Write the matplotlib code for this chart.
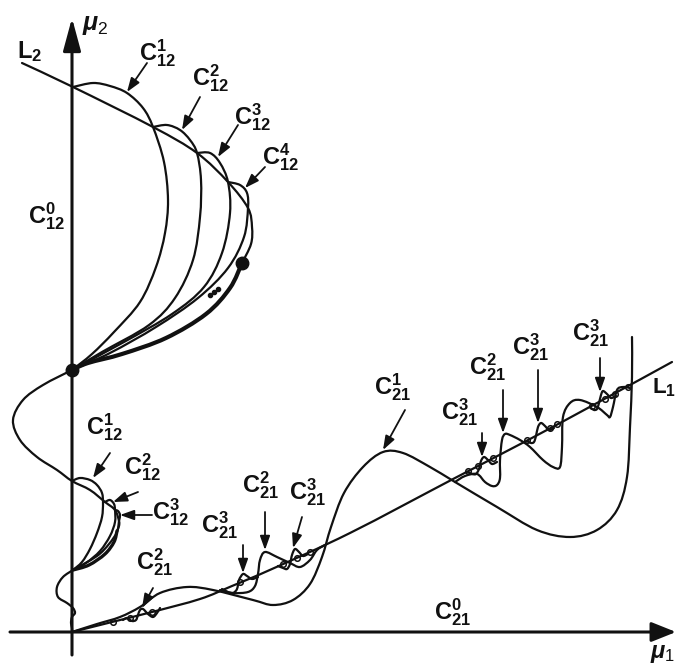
import numpy as np
import matplotlib
matplotlib.use("Agg")
import matplotlib.pyplot as plt
from matplotlib.path import Path
from matplotlib.patches import PathPatch

plt.rcParams['font.family'] = ['Liberation Sans', 'DejaVu Sans']
plt.rcParams['mathtext.fontset'] = 'custom'
plt.rcParams['mathtext.rm'] = 'Liberation Sans'
plt.rcParams['mathtext.it'] = 'Liberation Sans:italic:bold'
plt.rcParams['mathtext.bf'] = 'Liberation Sans:bold'

# ---------------- data (mu1, mu2 coordinates) ----------------
# upper structure
L2_x = [-50, 1, 81, 125, 156, 176, 180, 179, 170]
L2_y = [569, 545, 505, 479, 450, 424, 405, 388, 369]
limit_x = [170, 158, 134, 94, 50, 16, 0]
limit_y = [369, 344, 318, 294, 278, 269, 262]
c12_1_x = [1, 21, 38, 55, 71, 81, 92, 96, 93, 84, 68, 42, 20, 0]
c12_1_y = [545, 549, 546, 539, 524, 505, 470, 432, 399, 365, 330, 300, 278, 262]
c12_2_x = [81, 95, 108, 118, 125, 129, 128, 121, 103, 77, 30, 0]
c12_2_y = [505, 507, 502, 492, 479, 452, 415, 372, 334, 307, 280, 262]
c12_3_x = [125, 138, 148, 156, 158, 150, 132, 100, 52, 0]
c12_3_y = [479, 479, 469, 450, 419, 379, 345, 318, 290, 262]
c12_4_x = [156, 168, 175, 176, 172, 156, 126, 84, 38, 0]
c12_4_y = [450, 447, 439, 424, 395, 364, 334, 305, 279, 262]

# S-shaped curve and small copy
s_curve_x = [0, -29, -49, -59, -52, -35, -15, 0, 18, 33, 43, 47, 47, 45]
s_curve_y = [262, 247, 232, 212, 192, 175, 162, 151, 142, 130, 122, 111, 106, 101]
s_limit_x = [45, 42, 33, 17, 1]
s_limit_y = [101, 90, 78, 67, 62]
s_c12_1_x = [0, 8, 18, 25, 30, 31, 30, 25, 18, 10, 1]
s_c12_1_y = [151, 154, 152, 147, 139, 129, 115, 99, 83, 70, 62]
s_c12_2_x = [33, 38, 42, 43, 43, 38, 28, 14, 1]
s_c12_2_y = [130, 132, 128, 122, 110, 96, 81, 69, 62]
s_c12_3_x = [43, 46, 48, 47, 45, 37, 25, 1]
s_c12_3_y = [122, 121, 117, 111, 100, 88, 76, 62]
tail_x = [1, -9, -15, -14, -5, 1, 3, 0, -1, 0, 0]
tail_y = [62, 55, 45, 35, 29, 24, 19, 15, 9, 4, 0]

# lower-right structure
L1_x = [0, 40, 80, 128, 160, 200, 278, 383, 458, 525, 600]
L1_y = [0, 10, 20, 33, 46, 63, 99, 154, 193, 229, 270]
c21_1_x = [0, 25, 48, 68, 88, 115, 141, 181, 201, 221, 238, 250, 259, 272, 291,
           311, 331, 358, 383, 425, 465, 498, 525, 545, 555, 558, 560, 560]
c21_1_y = [0, 8, 15, 25, 39, 45, 42, 32, 27, 32, 48, 75, 105, 139, 165,
           180, 179, 165, 150, 125, 102, 95, 102, 122, 155, 205, 255, 295]
c21_2u_x = [383, 393, 405, 413, 420, 425, 428, 428, 430, 433, 438, 448, 458, 471,
            481, 488, 490, 491, 498, 508, 525, 535, 538, 541, 545, 551, 558]
c21_2u_y = [150, 156, 158, 150, 146, 147, 154, 172, 192, 198, 197, 192, 185, 172,
            165, 165, 185, 215, 229, 232, 225, 217, 215, 225, 242, 245, 244]
c21_2l_x = [148, 161, 176, 183, 186, 188, 193, 205, 218, 228, 238, 245, 253]
c21_2l_y = [42, 39, 40, 46, 58, 72, 80, 75, 69, 65, 72, 82, 87]
c21_2s_x = [51, 55, 60, 64, 66, 68, 71, 76, 81, 85, 88]
c21_2s_y = [12, 14, 11, 12, 17, 22, 23, 18, 15, 19, 24]
b1_x = [150, 156, 161, 165, 167, 171, 175, 180, 186]
b1_y = [43, 40, 39, 43, 52, 58, 56, 53, 55]
b2_x = [206, 211, 215, 218, 220, 223, 227, 231, 236]
b2_y = [66, 64, 63, 68, 77, 83, 80, 76, 78]
b3_x = [396, 400, 404, 407, 409, 412, 416, 420, 425]
b3_y = [160, 158, 158, 163, 171, 175, 172, 168, 170]
b4_x = [455, 459, 462, 464, 466, 469, 473, 477, 482]
b4_y = [191, 189, 190, 196, 205, 209, 206, 202, 204]
b5_x = [519, 522, 525, 527, 529, 531, 535, 539, 544]
b5_y = [224, 222, 223, 229, 237, 241, 238, 234, 236]
loops_x = [41, 58, 80, 168, 211, 225, 238, 396, 406, 421, 455, 478, 485, 520, 533, 543, 556]
loops_y = [10, 14.5, 20, 50, 68, 74, 80, 161, 166, 174, 192, 204, 208, 226, 233, 238, 245]

dots_x = [170, 0]
dots_y = [369, 262]
ellipsis_x = [138, 142, 146]
ellipsis_y = [337, 340, 343]

# labels: text, centre x, centre y
labels = [
    (r"$\mathregular{C^1_{12}}$", 86, 579),
    (r"$\mathregular{C^2_{12}}$", 139, 554),
    (r"$\mathregular{C^3_{12}}$", 181, 515),
    (r"$\mathregular{C^4_{12}}$", 209, 475),
    (r"$\mathregular{C^0_{12}}$", -25, 416),
    (r"$\mathregular{C^1_{12}}$", 33, 205),
    (r"$\mathregular{C^2_{12}}$", 71, 165),
    (r"$\mathregular{C^3_{12}}$", 99, 120),
    (r"$\mathregular{C^2_{21}}$", 83, 70),
    (r"$\mathregular{C^3_{21}}$", 148, 107),
    (r"$\mathregular{C^2_{21}}$", 189, 147),
    (r"$\mathregular{C^3_{21}}$", 236, 140),
    (r"$\mathregular{C^1_{21}}$", 321, 245),
    (r"$\mathregular{C^3_{21}}$", 388, 220),
    (r"$\mathregular{C^2_{21}}$", 416, 265),
    (r"$\mathregular{C^3_{21}}$", 459, 285),
    (r"$\mathregular{C^3_{21}}$", 519, 299),
    (r"$\mathregular{C^0_{21}}$", 381, 20),
    (r"$\mathregular{L_2}$", -42, 580),
]
# arrows: start x, start y, tip x, tip y
arrow_x0 = [75, 128, 166, 193, 38, 66, 80, 81, 171, 193, 230, 333, 410, 431, 466, 528]
arrow_y0 = [569, 535, 507, 465, 179, 140, 117, 44, 87, 120, 115, 222, 199, 242, 262, 274]
arrow_x1 = [55, 110, 146, 173, 21, 41, 48, 70, 171, 193, 221, 311, 410, 431, 466, 528]
arrow_y1 = [540, 502, 475, 444, 154, 130, 117, 24, 59, 82, 84, 182, 175, 199, 209, 240]

# ---------------- drawing ----------------
fig = plt.figure(figsize=(6.77, 6.66), dpi=100)
ax = fig.add_axes([0, 0, 1, 1])
ax.set_xlim(-72, 605)
ax.set_ylim(-34, 632)
ax.axis('off')
INK = '#111111'


def smooth(xs, ys, lw=1.5):
    pts = np.column_stack([xs, ys]).astype(float)
    n = len(pts)
    verts = [pts[0]]
    codes = [Path.MOVETO]
    for i in range(n - 1):
        p0 = pts[i - 1] if i > 0 else pts[i]
        p1 = pts[i]
        p2 = pts[i + 1]
        p3 = pts[i + 2] if i + 2 < n else pts[i + 1]
        verts += [p1 + (p2 - p0) / 6.0, p2 - (p3 - p1) / 6.0, p2]
        codes += [Path.CURVE4] * 3
    ax.add_patch(PathPatch(Path(verts, codes), fill=False, lw=lw, edgecolor=INK,
                           capstyle='round', joinstyle='round'))


# axes with arrows
ax.annotate('', xy=(0, 614), xytext=(0, -23),
            arrowprops=dict(arrowstyle='-|>,head_length=1.0,head_width=0.27',
                            mutation_scale=20, lw=2.2, color=INK,
                            shrinkA=0, shrinkB=0))
ax.annotate('', xy=(604, 0), xytext=(-62, 0),
            arrowprops=dict(arrowstyle='-|>,head_length=0.75,head_width=0.3',
                            mutation_scale=20, lw=2.2, color=INK,
                            shrinkA=0, shrinkB=0))

for xs, ys in [(L2_x, L2_y), (c12_1_x, c12_1_y), (c12_2_x, c12_2_y),
               (c12_3_x, c12_3_y), (c12_4_x, c12_4_y), (s_curve_x, s_curve_y),
               (s_c12_1_x, s_c12_1_y), (s_c12_2_x, s_c12_2_y), (s_c12_3_x, s_c12_3_y),
               (tail_x, tail_y), (L1_x, L1_y), (c21_1_x, c21_1_y),
               (c21_2u_x, c21_2u_y), (c21_2l_x, c21_2l_y), (c21_2s_x, c21_2s_y),
               (b1_x, b1_y), (b2_x, b2_y), (b3_x, b3_y), (b4_x, b4_y), (b5_x, b5_y)]:
    smooth(xs, ys, lw=1.6)
smooth(limit_x, limit_y, lw=3.0)
smooth(s_limit_x, s_limit_y, lw=2.4)

ax.plot(loops_x, loops_y, ls='none', marker='o', ms=4, mfc='none', mec=INK, mew=1.1)
ax.plot(dots_x, dots_y, ls='none', marker='o', ms=9, color=INK)
ax.plot(ellipsis_x, ellipsis_y, ls='none', marker='o', ms=3, color=INK)

for (t, x, y) in labels:
    ax.text(x, y, t, fontsize=17, ha='center', va='center', color=INK,
            fontweight='bold')
ax.text(23, 607, r"$\mu_2$", fontsize=18, ha='center', va='center', color=INK)
ax.text(578, -22, r"$\mu_1$", fontsize=17, ha='left', va='center', color=INK)
ax.text(580, 244, r"$\mathregular{L_1}$", fontsize=16, ha='left', va='center',
        color=INK, fontweight='bold')

for x0, y0, x1, y1 in zip(arrow_x0, arrow_y0, arrow_x1, arrow_y1):
    ax.annotate('', xy=(x1, y1), xytext=(x0, y0),
                arrowprops=dict(arrowstyle='-|>,head_length=0.7,head_width=0.25',
                                mutation_scale=12, lw=1.3, color=INK,
                                shrinkA=0, shrinkB=0))

fig.savefig('out.png', dpi=100, facecolor='white')
